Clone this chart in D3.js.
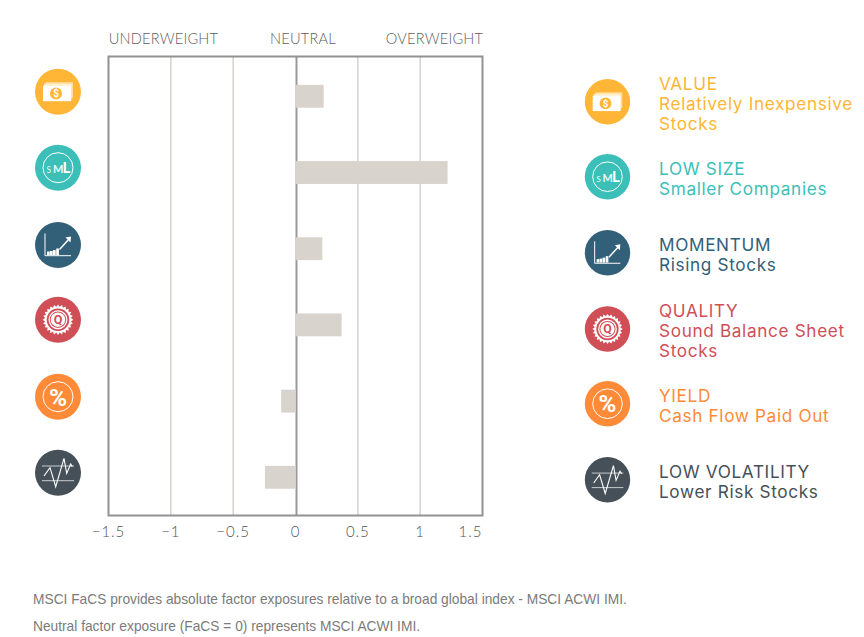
<!DOCTYPE html>
<html>
<head>
<meta charset="utf-8">
<script src="https://cdn.jsdelivr.net/npm/d3@7/dist/d3.min.js"></script>
<style>
html,body{margin:0;padding:0;background:#fff}
svg{display:block}
</style>
</head>
<body>
<svg id="c" width="864" height="637"></svg>
<script>
const factors = ["VALUE","LOW SIZE","MOMENTUM","QUALITY","YIELD","LOW VOLATILITY"];
const exposures = [0.226,1.22,0.215,0.37,-0.115,-0.245];
const descriptions = [["Relatively Inexpensive","Stocks"],["Smaller Companies"],["Rising Stocks"],["Sound Balance Sheet","Stocks"],["Cash Flow Paid Out"],["Lower Risk Stocks"]];
const colors = ["#ffb636","#3cbfb9","#336079","#d04f57","#ff8b38","#465058"];
const iconKinds = ["value","size","momentum","quality","yield","vol"];
const xTicks = [-1.5,-1,-0.5,0,0.5,1,1.5];
const headers = ["UNDERWEIGHT","NEUTRAL","OVERWEIGHT"];
const footnotes = ["MSCI FaCS provides absolute factor exposures relative to a broad global index - MSCI ACWI IMI.","Neutral factor exposure (FaCS = 0) represents MSCI ACWI IMI."];

const svg = d3.select("#c");
const P = {l:108.5,r:482.5,t:56.5,b:515.5};
const x = d3.scaleLinear().domain([-1.5,1.5]).range([P.l,P.r]);
const y = d3.scaleBand().domain(factors).range([58.2,515.4]).paddingInner(0.7).paddingOuter(0.35);
const iconYLeft = [91.7,167.7,245,319.7,396.7,472.7];
const legendCy = [101.7,176.7,252.7,329,403.7,479.7];
const sansUI = "Lato, 'Open Sans', sans-serif";
const legendFont = "Inter, 'Open Sans', sans-serif";

// gridlines
svg.append("g").attr("transform",`translate(0,${P.b})`)
  .call(d3.axisBottom(x).offset(0).tickValues(xTicks.filter(d=>d!==0&&Math.abs(d)!==1.5)).tickSize(-(P.b-P.t)).tickFormat(""))
  .call(g=>g.select(".domain").remove())
  .call(g=>g.selectAll("line").attr("stroke","#d5d2cd").attr("stroke-width",1.5));

// zero line
svg.append("line").attr("x1",x(0)+1).attr("x2",x(0)+1).attr("y1",P.t).attr("y2",P.b).attr("stroke","#999").attr("stroke-width",2);

// bars
svg.append("g").selectAll("rect").data(factors).join("rect")
  .attr("x",(d,i)=>Math.min(x(0),x(exposures[i])))
  .attr("width",(d,i)=>Math.abs(x(exposures[i])-x(0)))
  .attr("y",d=>y(d)).attr("height",y.bandwidth()).attr("fill","#d9d3cd");

// frame
svg.append("rect").attr("x",P.l).attr("y",P.t).attr("width",P.r-P.l).attr("height",P.b-P.t)
  .attr("fill","none").attr("stroke","#929292").attr("stroke-width",2);

// x axis labels
svg.append("g").attr("transform",`translate(0,${P.b})`)
  .call(d3.axisBottom(x).offset(0).tickValues(xTicks).tickSize(0).tickPadding(11).tickFormat(d=>String(d).replace("-","\u2212")))
  .call(g=>g.select(".domain").remove())
  .call(g=>g.selectAll("text").attr("font-family",sansUI).attr("font-weight",300).attr("font-size",15).attr("letter-spacing",1).attr("fill","#555")
     .attr("dx",d=>d===1.5?-12:0));

// header
const headerX = [163.5,303,434.5];
svg.append("g").selectAll("text").data(headers).join("text")
  .attr("x",(d,i)=>headerX[i]).attr("y",44).attr("text-anchor","middle")
  .attr("font-family",sansUI).attr("font-weight",300).attr("font-size",14.6).attr("letter-spacing",0.2).attr("fill","#5f5f5f").text(d=>d);

// icons
function icon(g,kind,c){
  const w="#fff";
  if(kind==="value"){
    g.append("rect").attr("x",-12.5).attr("y",-9.5).attr("width",27.5).attr("height",16).attr("fill","#ffdc9c");
    g.append("rect").attr("x",-14).attr("y",-8).attr("width",27.5).attr("height",16.5).attr("fill","#ffeecb");
    g.append("rect").attr("x",-15).attr("y",-6).attr("width",28).attr("height",15.5).attr("fill",w);
    g.append("circle").attr("cx",-2).attr("cy",1.7).attr("r",6).attr("fill",c);
    g.append("text").attr("x",-2).attr("y",5.2).attr("text-anchor","middle").attr("font-family","Roboto").attr("font-weight",700).attr("font-size",10).attr("fill",w).text("$");
  } else if(kind==="size"){
    g.append("circle").attr("r",15).attr("fill","none").attr("stroke",w).attr("stroke-width",1);
    g.append("text").attr("x",-11.5).attr("y",5).attr("font-family","Lato").attr("font-size",8.5).attr("fill",w).attr("opacity",.9).text("S");
    g.append("text").attr("x",-5).attr("y",5.2).attr("font-family","Lato").attr("font-weight",700).attr("font-size",11).attr("fill",w).attr("opacity",.9).text("M");
    g.append("text").attr("x",4.6).attr("y",5.4).attr("font-family","Lato").attr("font-weight",700).attr("font-size",15).attr("fill",w).text("L");
  } else if(kind==="momentum"){
    g.append("path").attr("d","M-13,-11.5V10.7H13").attr("fill","none").attr("stroke",w).attr("stroke-width",1);
    [[-11,6.5,2.7,3.5],[-8,6,2.7,4],[-5,5,2.7,5],[-1.8,3.5,2.7,6.5]].forEach(a=>g.append("rect").attr("x",a[0]).attr("y",a[1]).attr("width",a[2]).attr("height",a[3]).attr("fill",w));
    g.append("path").attr("d","M1.5,4.5L12,-7").attr("stroke",w).attr("stroke-width",1.5).attr("fill","none");
    g.append("path").attr("d","M7.5,-7.5L13,-8.5L12.5,-2.5Z").attr("fill",w);
  } else if(kind==="quality"){
    const star=d3.range(48).map(i=>{const a=i/48*2*Math.PI,r=i%2?13:15.3;return [r*Math.cos(a),r*Math.sin(a)];});
    g.append("path").attr("d",d3.line()(star)+"Z").attr("fill",w);
    g.append("circle").attr("r",11.3).attr("fill",c);
    g.append("circle").attr("r",9.5).attr("fill",w);
    g.append("circle").attr("r",8.2).attr("fill",c);
    g.append("circle").attr("r",7.2).attr("fill",w);
    g.append("text").attr("y",4.5).attr("text-anchor","middle").attr("font-family","Roboto").attr("font-weight",700).attr("font-size",12.5).attr("fill",c).text("Q");
  } else if(kind==="yield"){
    g.append("circle").attr("r",15).attr("fill","none").attr("stroke",w).attr("stroke-width",1);
    g.append("text").attr("y",8.8).attr("text-anchor","middle").attr("font-family","Roboto").attr("font-weight",700).attr("font-size",24.5).attr("fill",w).text("%");
  } else {
    g.append("path").attr("d","M-16,-6.7H16M-16,8H16").attr("stroke","#c8cccf").attr("stroke-width",1).attr("fill","none");
    g.append("path").attr("d","M-14,3.3L-8,-5L-2.3,14L6,-14.3L8.7,.7L12.7,-8.7L14.3,-6").attr("stroke",w).attr("stroke-width",1.1).attr("fill","none");
  }
}
factors.forEach((f,i)=>{
  [[58,iconYLeft[i],23],[607.5,legendCy[i],22.7]].forEach(p=>{
    const g=svg.append("g").attr("transform",`translate(${p[0]},${p[1]}) scale(${p[2]/23})`);
    g.append("circle").attr("r",23).attr("fill",colors[i]);
    icon(g,iconKinds[i],colors[i]);
  });
});

// legend text
const legendTop = [84,169,245,311,396,472];
factors.forEach((f,i)=>{
  const lines=[f].concat(descriptions[i]);
  svg.append("g").selectAll("text").data(lines).join("text")
    .attr("x",659).attr("y",(d,k)=>legendTop[i]+k*20+6)
    .attr("font-family",legendFont).attr("font-weight",400).attr("font-size",17.2).attr("letter-spacing",0.65).attr("fill",colors[i]).text(d=>d);
});

// footnotes
const footY=[604,631];
svg.append("g").selectAll("text").data(footnotes).join("text")
  .attr("x",33).attr("y",(d,i)=>footY[i])
  .attr("font-family","'Liberation Sans', Arial, sans-serif").attr("font-size",13.75).attr("fill","#7b7b7b").text(d=>d);
</script>
</body>
</html>
